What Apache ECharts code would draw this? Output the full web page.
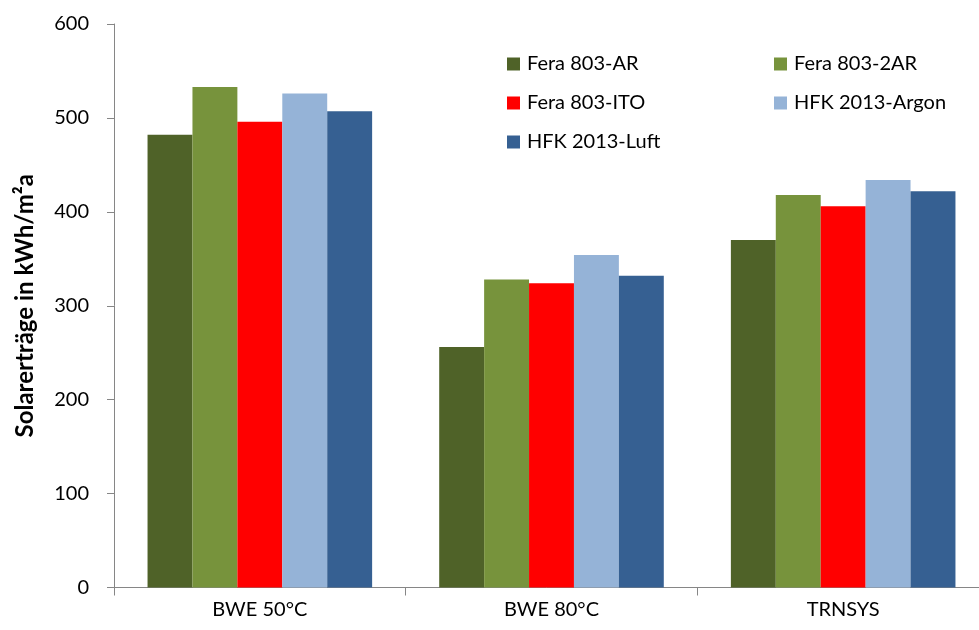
<!DOCTYPE html>
<html>
<head>
<meta charset="utf-8">
<script src="https://cdn.jsdelivr.net/npm/echarts@6/dist/echarts.min.js"></script>
<style>
  html, body { margin: 0; padding: 0; background: #fff; }
  #chart { width: 979px; height: 630px; }
</style>
</head>
<body>
<div id="chart"></div>
<script>
// Categories (simulation / measurement case)
const categories = ['BWE 50°C', 'BWE 80°C', 'TRNSYS'];

// Solar yields per collector variant, kWh/m²a
const fera803AR = [482, 256, 370];
const fera8032AR = [533, 328, 418];
const fera803ITO = [496, 324, 406];
const hfk2013Argon = [526, 354, 434];
const hfk2013Luft = [507, 332, 422];

const seriesNames = ['Fera 803-AR', 'Fera 803-2AR', 'Fera 803-ITO', 'HFK 2013-Argon', 'HFK 2013-Luft'];
const seriesValues = [fera803AR, fera8032AR, fera803ITO, hfk2013Argon, hfk2013Luft];
const seriesColors = ['#4F6228', '#77933C', '#FF0000', '#95B3D7', '#366092'];

const fontFamily = 'Lato, "Open Sans", sans-serif';

const chart = echarts.init(document.getElementById('chart'), null, { renderer: 'canvas' });

const legendText = { fontFamily, fontSize: 20, color: '#000', lineHeight: 20, padding: [0, 0, 0, 2] };

chart.setOption({
  animation: false,
  backgroundColor: '#fff',
  // the plot runs a little past the right edge of the canvas
  grid: {
    left: 114, top: 24, bottom: 42.5, width: 875,
    containLabel: false, outerBoundsMode: 'none'
  },
  legend: [
    {
      data: [seriesNames[0], seriesNames[2], seriesNames[4]],
      orient: 'vertical', left: 502, top: 49,
      itemWidth: 13, itemHeight: 13, itemGap: 19, icon: 'rect',
      textStyle: legendText
    },
    {
      data: [seriesNames[1], seriesNames[3]],
      orient: 'vertical', left: 769, top: 49,
      itemWidth: 13, itemHeight: 13, itemGap: 19, icon: 'rect',
      textStyle: legendText
    }
  ],
  xAxis: {
    type: 'category',
    data: categories,
    axisLine: { lineStyle: { color: '#868686', width: 1 } },
    axisTick: { show: true, length: 8, lineStyle: { color: '#868686' } },
    axisLabel: { fontFamily, fontSize: 20, color: '#000', margin: 12 }
  },
  yAxis: {
    type: 'value',
    min: 0, max: 600, interval: 100,
    name: 'Solarerträge in kWh/m²a',
    nameLocation: 'middle',
    nameGap: 77,
    nameTextStyle: { fontFamily, fontSize: 24, fontWeight: 'bold', color: '#000' },
    splitLine: { show: false },
    axisLine: { show: true, lineStyle: { color: '#868686', width: 1 } },
    axisTick: { show: true, length: 7, inside: false, lineStyle: { color: '#868686' } },
    axisLabel: { fontFamily, fontSize: 20, color: '#000', margin: 25 }
  },
  series: seriesNames.map((name, i) => ({
    name,
    type: 'bar',
    data: seriesValues[i],
    barGap: '0%',
    barCategoryGap: '23%',
    itemStyle: { color: seriesColors[i] }
  }))
});
</script>
</body>
</html>
